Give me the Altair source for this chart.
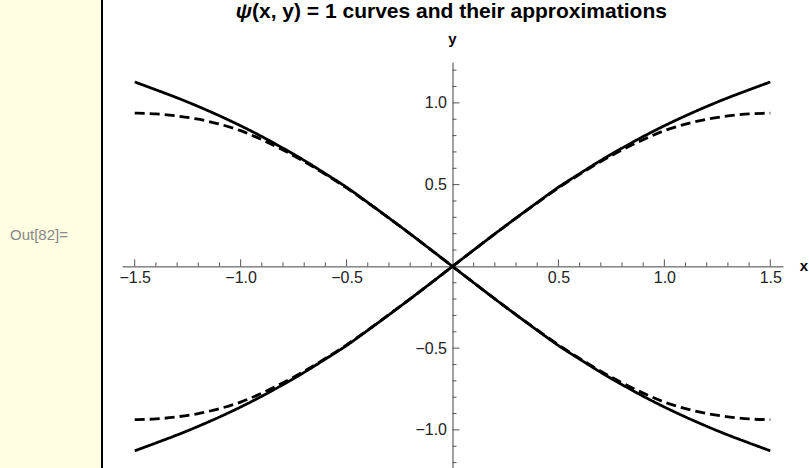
import altair as alt
import pandas as pd

# Right half of each branch; the left half is its point reflection through the origin
x_half = [0.0, 0.1, 0.2, 0.3, 0.4, 0.5, 0.6, 0.7, 0.8, 0.9, 1.0, 1.1, 1.2, 1.3, 1.4, 1.5]
# Level curve psi(x, y) = 1
exact_half = [0.0, 0.100, 0.199, 0.296, 0.391, 0.484, 0.567, 0.648, 0.723, 0.794,
              0.860, 0.921, 0.978, 1.031, 1.080, 1.128]
# Its series approximation
approx_half = [0.0, 0.100, 0.199, 0.295, 0.389, 0.480, 0.563, 0.641, 0.712, 0.775,
               0.830, 0.870, 0.900, 0.920, 0.933, 0.937]

# Axis tick values
x_major = [-1.5, -1.0, -0.5, 0.5, 1.0, 1.5]
x_minor = [-1.4, -1.3, -1.2, -1.1, -0.9, -0.8, -0.7, -0.6, -0.4, -0.3, -0.2, -0.1,
           0.1, 0.2, 0.3, 0.4, 0.6, 0.7, 0.8, 0.9, 1.1, 1.2, 1.3, 1.4]
y_major = [-1.0, -0.5, 0.5, 1.0]
y_minor = [-1.2, -1.1, -0.9, -0.8, -0.7, -0.6, -0.4, -0.3, -0.2, -0.1,
           0.1, 0.2, 0.3, 0.4, 0.6, 0.7, 0.8, 0.9, 1.1, 1.2]

W, H = 661, 406
XDOM = [-1.56, 1.56]
YDOM = [-1.233, 1.25]
y_zero = H * YDOM[1] / (YDOM[1] - YDOM[0])
FONT = "Liberation Sans"

rows = []
for kind, half in (("exact", exact_half), ("approx", approx_half)):
    for sign, branch in ((1, "rising"), (-1, "falling")):
        for xv, yv in zip(x_half, half):
            rows.append({"x": xv, "y": sign * yv, "kind": kind, "curve": f"{kind}-{branch}"})
            if xv > 0:
                rows.append({"x": -xv, "y": -sign * yv, "kind": kind, "curve": f"{kind}-{branch}"})
curves = pd.DataFrame(rows)

xs = alt.Scale(domain=XDOM, nice=False, zero=False)
ys = alt.Scale(domain=YDOM, nice=False, zero=False)

# Axes cross at the origin: shift them into the plot with negative offsets
x_axis = alt.Axis(values=x_major, format=".1f", ticks=False, grid=False,
                  domainColor="#444", domainWidth=1, labelFont=FONT, labelFontSize=16,
                  labelColor="#222", labelPadding=3, labelFlush=False, labelOverlap=False,
                  offset=-(H - y_zero), title=None)
y_axis = alt.Axis(values=y_major, format=".1f", ticks=False, grid=False,
                  domainColor="#444", domainWidth=1, labelFont=FONT, labelFontSize=16,
                  labelColor="#222", labelPadding=6, labelFlush=False, labelOverlap=False,
                  offset=-(W / 2), title=None)

lines = alt.Chart(curves).mark_line(color="black", strokeWidth=2.8, interpolate="monotone",
                                     clip=False).encode(
    x=alt.X("x:Q", scale=xs, axis=x_axis),
    y=alt.Y("y:Q", scale=ys, axis=y_axis),
    detail="curve:N",
    strokeDash=alt.StrokeDash("kind:N", scale=alt.Scale(domain=["exact", "approx"],
                                                         range=[[1, 0], [10, 5]]), legend=None),
)

tick_color = "#555"


def x_ticks(values, length):
    df = pd.DataFrame({"x": values, "y": [0.0] * len(values)})
    return alt.Chart(df).mark_rule(color=tick_color, strokeWidth=1, y2Offset=-length).encode(
        x=alt.X("x:Q", scale=xs, axis=x_axis),
        y=alt.Y("y:Q", scale=ys, axis=y_axis),
        y2="y:Q")


def y_ticks(values, length):
    df = pd.DataFrame({"y": values, "x": [0.0] * len(values)})
    return alt.Chart(df).mark_rule(color=tick_color, strokeWidth=1, x2Offset=length).encode(
        y=alt.Y("y:Q", scale=ys, axis=y_axis),
        x=alt.X("x:Q", scale=xs, axis=x_axis),
        x2="x:Q")


# Axis names at the end of each axis
x_name = alt.Chart(pd.DataFrame({"x": [XDOM[1]], "y": [0.0]})).mark_text(
    text="x", font=FONT, fontSize=15, fontWeight="bold", color="black",
    align="center", baseline="middle", dx=21).encode(
    x=alt.X("x:Q", scale=xs, axis=x_axis), y=alt.Y("y:Q", scale=ys, axis=y_axis))
y_name = alt.Chart(pd.DataFrame({"x": [0.0], "y": [YDOM[1]]})).mark_text(
    text="y", font=FONT, fontSize=15, fontWeight="bold", color="black",
    align="center", baseline="alphabetic", dy=-18).encode(
    x=alt.X("x:Q", scale=xs, axis=x_axis), y=alt.Y("y:Q", scale=ys, axis=y_axis))

# Title: italic psi followed by the rest in upright bold
title_psi = alt.Chart(pd.DataFrame({"v": [0]})).mark_text(
    text="\u03c8", font=FONT, fontSize=21, fontWeight="bold", fontStyle="italic",
    color="black", align="right", baseline="alphabetic").encode(
    x=alt.value(130), y=alt.value(-44))
title_rest = alt.Chart(pd.DataFrame({"v": [0]})).mark_text(
    text="(x, y) = 1 curves and their approximations", font=FONT, fontSize=21,
    fontWeight="bold", color="black", align="left", baseline="alphabetic").encode(
    x=alt.value(130), y=alt.value(-44))

# Notebook output label and cell bracket on the left
panel = alt.Chart(pd.DataFrame({"v": [0]})).mark_rect(color="#FFFDE2").encode(
    x=alt.value(-122), x2=alt.value(-21), y=alt.value(-62), y2=alt.value(H))
bracket = alt.Chart(pd.DataFrame({"v": [0]})).mark_rule(color="black", strokeWidth=2).encode(
    x=alt.value(-20), y=alt.value(-62), y2=alt.value(H))
out_label = alt.Chart(pd.DataFrame({"v": [0]})).mark_text(
    text="Out[82]=", font=FONT, fontSize=15, color="#888", align="left",
    baseline="middle").encode(x=alt.value(-112), y=alt.value(173))

chart = alt.layer(
    panel, bracket, out_label,
    x_ticks(x_minor, 4), x_ticks(x_major, 7), y_ticks(y_minor, 4), y_ticks(y_major, 7),
    lines, x_name, y_name, title_psi, title_rest,
).properties(
    width=W, height=H,
    autosize=alt.AutoSizeParams(type="none"),
    padding={"left": 122, "top": 62, "right": 26, "bottom": 0},
    background="white",
).configure_view(stroke=None)

chart.save("out.html", embed_options={"renderer": "svg", "actions": False})
